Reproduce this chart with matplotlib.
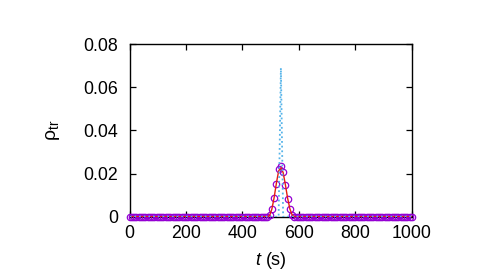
import numpy as np
import matplotlib
matplotlib.use("Agg")
import matplotlib.pyplot as plt
from matplotlib.ticker import FuncFormatter

plt.rcParams['font.family'] = ['Liberation Sans', 'DejaVu Sans']
plt.rcParams['mathtext.fontset'] = 'custom'
plt.rcParams['mathtext.rm'] = 'Liberation Sans'
plt.rcParams['mathtext.it'] = 'Liberation Sans:italic'

# sample times (s), every 8 s
t = np.arange(0, 1001, 8)

# values around the peak (t = 496 ... 576); zero elsewhere
peak_t = [496, 504, 512, 520, 528, 536, 544, 552, 560, 568, 576]
circles_peak = [0.0008, 0.0034, 0.0087, 0.0153, 0.0221, 0.0233, 0.0209, 0.0147, 0.0084, 0.0037, 0.0008]
red_peak = [0.0005, 0.0035, 0.0088, 0.0155, 0.0212, 0.0228, 0.0205, 0.0148, 0.0085, 0.0036, 0.0008]
cyan_peak = [0.0, 0.0, 0.0, 0.0, 0.0, 0.069, 0.0, 0.0, 0.0, 0.0, 0.0]

xticks = [0, 200, 400, 600, 800, 1000]
yticks = [0, 0.02, 0.04, 0.06, 0.08]


def full_series(vals):
    y = np.zeros_like(t, dtype=float)
    for tt, v in zip(peak_t, vals):
        y[t == tt] = v
    return y


y_circ = full_series(circles_peak)
y_red = full_series(red_peak)
y_cyan = full_series(cyan_peak)

fig = plt.figure(figsize=(4.8, 2.8), dpi=100)
ax = fig.add_axes([0.270, 0.226, 0.588, 0.616])

ax.plot(t, y_circ, linestyle='none', marker='o', markersize=4.6, markerfacecolor='none',
        markeredgecolor='#9400d3', markeredgewidth=0.9, clip_on=False, zorder=3)
ax.plot(t, y_red, color='#e51e10', linewidth=1.0, zorder=4)
ax.plot(t, y_cyan, color='#56b4e9', linewidth=1.3, linestyle=(0, (1, 1.6)), zorder=5)

ax.set_xlim(0, 1000)
ax.set_ylim(0, 0.08)
ax.set_xticks(xticks)
ax.set_yticks(yticks)
ax.yaxis.set_major_formatter(FuncFormatter(lambda v, p: '%g' % round(v, 4)))
ax.tick_params(direction='in', length=4, width=0.9, top=True, right=True,
               labelsize=12.8, pad=6, colors='black')
ax.tick_params(axis='y', pad=8)
for s in ax.spines.values():
    s.set_linewidth(1.0)

ax.set_xlabel('$t$ (s)', fontsize=13, labelpad=6)
ax.set_ylabel('ρ$_{\\mathrm{tr}}$', fontsize=14, labelpad=16)

fig.savefig('out.png', dpi=100)
